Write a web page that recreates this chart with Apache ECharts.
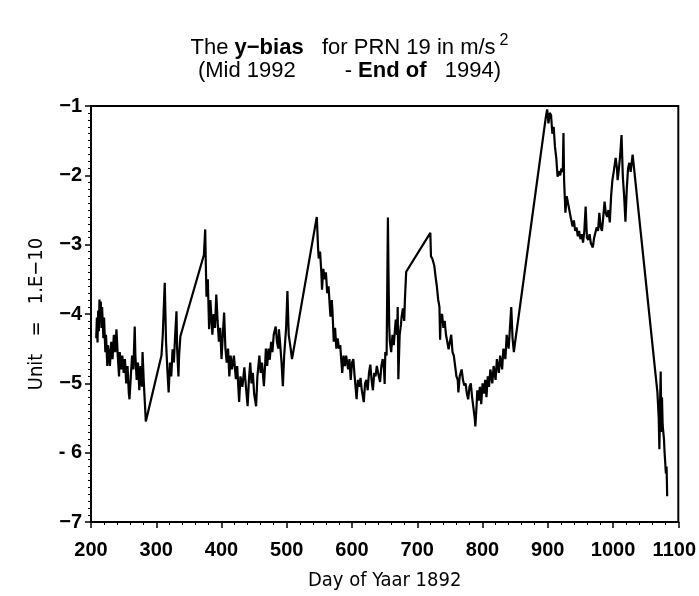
<!DOCTYPE html>
<html>
<head>
<meta charset="utf-8">
<script src="https://cdn.jsdelivr.net/npm/echarts@6/dist/echarts.min.js"></script>
<style>html,body{margin:0;padding:0;background:#fff}#c{width:699px;height:596px}</style>
</head>
<body>
<div id="c"></div>
<script>
const days = [208,209,210,211,212,213,214,215,216,217,219,220,222,223,225,226,228,229,231,233,235,237,239,241,243,244,246,248,250,252,254,256,258,259,261,263,265,267,268,270,272,274,276,278,279,281,284,
308,310,313,315,317,319,321,323,325,327,329,331,332,334,335,337,
373,375,376,377,379,381,383,386,388,390,392,394,396,398,400,402,404,406,408,410,412,414,416,419,422,424,427,429,432,435,437,440,442,444,446,448,450,453,455,458,460,462,465,467,468,470,472,474,476,478,480,483,485,487,488,490,492,494,496,499,501,503,506,508,
546,548,549,551,553,554,556,558,560,562,564,566,567,569,570,572,574,576,578,580,582,583,585,587,589,591,594,596,598,600,602,604,607,609,611,613,615,618,620,622,624,626,628,630,632,634,636,638,640,643,645,647,649,650,651,653,655,656,657,658,660,662,664,666,667,669,670,671,673,675,676,678,680,681,683,
720,721,723,726,728,730,732,734,735,736,738,740,742,744,746,748,750,752,754,756,758,760,762,763,765,768,770,772,774,776,778,780,782,784,786,788,789,791,792,794,796,798,800,802,804,806,808,810,812,815,817,820,822,825,827,830,832,835,837,840,842,844,846,848,850,
897,899,901,903,905,907,909,911,913,915,917,919,921,923,924,925,927,929,931,933,935,938,940,942,944,946,948,950,952,954,956,958,960,962,964,966,969,971,973,975,977,979,981,983,985,987,989,991,993,995,997,999,1001,1004,1006,1007,1009,1011,1013,1015,1017,1019,1021,1023,1025,1027,1030,
1068,1070,1071,1072,1073,1074,1075,1076,1078,1079,1081,1082,1083];
const vals = [-4.35,-4.05,-4.41,-3.95,-4.25,-3.79,-4.1,-3.82,-4.2,-3.9,-4.35,-4.05,-4.55,-4.3,-4.75,-4.45,-4.6,-4.75,-4.4,-4.65,-4.3,-4.55,-4.22,-4.6,-4.9,-4.55,-4.8,-4.6,-4.85,-4.65,-5.0,-4.75,-5.15,-5.23,-4.9,-4.6,-4.8,-4.18,-4.6,-4.95,-4.7,-5.1,-4.75,-5.05,-4.55,-5.0,-5.55,
-4.6,-4.3,-3.55,-4.4,-4.8,-5.13,-4.7,-4.9,-4.51,-4.7,-4.3,-3.96,-4.5,-4.9,-4.6,-4.32,
-3.15,-2.78,-3.3,-3.75,-3.5,-4.22,-3.8,-4.3,-4.0,-4.2,-3.72,-4.1,-4.4,-4.2,-4.65,-4.3,-3.98,-4.5,-4.7,-4.5,-4.9,-4.6,-4.8,-4.6,-4.94,-4.75,-5.27,-4.9,-5.05,-4.77,-5.0,-5.33,-4.95,-4.7,-5.0,-4.85,-5.15,-5.33,-4.9,-4.6,-4.85,-4.7,-5.04,-4.7,-4.5,-4.75,-4.5,-4.66,-4.4,-4.55,-4.3,-4.18,-4.4,-4.5,-4.22,-4.45,-4.7,-5.04,-4.6,-4.2,-3.67,-4.3,-4.5,-4.65,
-2.6,-3.05,-3.2,-3.1,-3.4,-3.65,-3.35,-3.5,-3.4,-3.7,-3.6,-3.9,-4.04,-3.8,-3.95,-4.4,-4.2,-4.5,-4.35,-4.5,-4.45,-4.6,-4.85,-4.6,-4.75,-4.6,-4.8,-4.65,-4.95,-4.7,-4.65,-4.9,-5.23,-4.95,-5.05,-4.92,-5.1,-5.27,-5.0,-4.95,-5.1,-4.85,-4.73,-4.95,-5.1,-4.85,-4.9,-4.75,-4.85,-4.98,-4.75,-4.65,-4.8,-5.01,-4.55,-4.6,-2.61,-3.5,-4.18,-4.4,-4.55,-4.3,-4.45,-4.2,-4.08,-4.3,-3.9,-4.94,-4.3,-4.15,-4.04,-3.92,-4.1,-3.8,-3.39,
-2.83,-3.17,-3.2,-3.3,-3.46,-3.6,-3.79,-3.9,-4.37,-4.05,-4.0,-4.2,-4.1,-4.3,-4.4,-4.51,-4.4,-4.3,-4.55,-4.6,-4.75,-4.9,-4.95,-5.13,-4.9,-4.8,-4.95,-5.03,-5.0,-5.15,-5.23,-5.05,-5.0,-5.2,-5.35,-5.5,-5.62,-5.3,-5.1,-5.25,-5.05,-5.3,-5.0,-5.15,-4.95,-5.2,-4.9,-5.05,-4.8,-5.0,-4.75,-4.95,-4.65,-4.85,-4.6,-4.8,-4.5,-4.65,-4.3,-4.5,-4.2,-3.9,-4.35,-4.55,-4.4,
-1.16,-1.05,-1.25,-1.1,-1.13,-1.4,-1.3,-1.59,-1.75,-2.02,-1.94,-2.0,-1.9,-1.95,-1.39,-2.07,-2.54,-2.3,-2.4,-2.5,-2.6,-2.74,-2.65,-2.8,-2.75,-2.88,-2.8,-2.92,-2.85,-2.97,-2.8,-2.45,-2.9,-2.93,-2.85,-2.98,-3.04,-2.9,-2.88,-2.75,-2.8,-2.54,-2.75,-2.8,-2.6,-2.38,-2.55,-2.6,-2.5,-2.68,-2.3,-2.07,-1.95,-1.75,-1.9,-2.07,-1.9,-1.7,-1.42,-2.02,-2.3,-2.67,-2.2,-1.9,-1.82,-1.95,-1.7,
-5.13,-5.5,-5.95,-5.3,-4.83,-5.7,-5.2,-5.6,-5.8,-6.0,-6.3,-6.2,-6.63];
const yTickValues = [-7,-6,-5,-4,-3,-2,-1];
const yTickLabels = ['\u22127','- 6','\u22125','\u22124','\u22123','\u22122','\u22121'];
const xTickLabels = ['200','300','400','500','600','700','800','900','1000','1100'];

const chart = echarts.init(document.getElementById('c'), null, {renderer:'canvas'});
const FS = 'Liberation Sans, Arial, sans-serif';
const NARROW = 'Liberation Sans Narrow, DejaVu Sans Condensed, Liberation Sans, sans-serif';
const lab = {color:'#000', fontFamily:FS, fontWeight:'bold', fontSize:20};
chart.setOption({
  animation:false,
  backgroundColor:'#fff',
  title:[{
    text:'{a|The }{b|y\u2212bias}{a|   for PRN 19 in m/s}{s|2}',
    left:'center', top:28,
    textStyle:{fontWeight:'normal', fontFamily:FS, rich:{
      a:{fontFamily:FS, fontSize:22, fontWeight:'normal', color:'#000', verticalAlign:'bottom', lineHeight:26},
      b:{fontFamily:FS, fontSize:22, fontWeight:'bold', color:'#000', verticalAlign:'bottom', lineHeight:26},
      s:{fontFamily:FS, fontSize:16, fontWeight:'normal', color:'#000', verticalAlign:'top', lineHeight:26, padding:[0,0,0,4]}
    }}
  },{
    text:'{a|(Mid 1992        - }{b|End of}{a|   1994)}',
    left:'center', top:55,
    textStyle:{fontWeight:'normal', fontFamily:FS, rich:{
      a:{fontFamily:FS, fontSize:22, fontWeight:'normal', color:'#000'},
      b:{fontFamily:FS, fontSize:22, fontWeight:'bold', color:'#000'}
    }}
  }],
  grid:{left:91, right:18, top:106, bottom:73, show:true, borderColor:'#000', borderWidth:2},
  xAxis:{
    type:'value', min:200, max:1100, interval:100,
    name:'Day of Yaar 1892', nameLocation:'middle', nameGap:49,
    nameTextStyle:{fontFamily:NARROW, fontSize:20, color:'#000'},
    axisLine:{lineStyle:{color:'#000', width:2}},
    axisTick:{show:true, length:6, lineStyle:{color:'#000', width:1.5}},
    minorTick:{show:true, splitNumber:5, length:3, lineStyle:{color:'#000', width:1}},
    splitLine:{show:false},
    axisLabel:Object.assign({margin:18, formatter:function(v){const i=Math.round((v-200)/100);return i===xTickLabels.length-1?'{r|'+xTickLabels[i]+'}':xTickLabels[i];},
      rich:{r:{fontFamily:FS, fontWeight:'bold', fontSize:20, color:'#000', padding:[0,8,0,0]}}}, lab)
  },
  yAxis:{
    type:'value', min:-7, max:-1, interval:1,
    name:'Unit   =   1.E\u221210', nameLocation:'middle', nameGap:44, nameRotate:90,
    nameTextStyle:{fontFamily:NARROW, fontSize:20, color:'#000'},
    axisLine:{lineStyle:{color:'#000', width:2}},
    axisTick:{show:true, length:6, lineStyle:{color:'#000', width:1.5}},
    minorTick:{show:true, splitNumber:10, length:3, lineStyle:{color:'#000', width:1}},
    splitLine:{show:false},
    axisLabel:Object.assign({margin:9, formatter:function(v){const i=yTickValues.indexOf(Math.round(v));return i>=0?yTickLabels[i]:'';}}, lab)
  },
  series:[{
    type:'line', data:days.map((d,i)=>[d, vals[i]]),
    showSymbol:false, symbol:'none',
    lineStyle:{color:'#000', width:2.2},
    itemStyle:{color:'#000'}
  }]
});
</script>
</body>
</html>
